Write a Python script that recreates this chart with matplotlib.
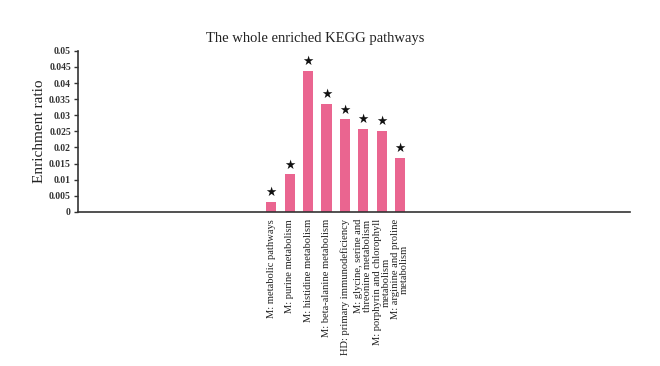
import matplotlib.pyplot as plt

pathways = [
    'M: metabolic pathways',
    'M: purine metabolism',
    'M: histidine metabolism',
    'M: beta-alanine metabolism',
    'HD: primary immunodeficiency',
    'M: glycine, serine and\nthreonine metabolism',
    'M: porphyrin and chlorophyll\nmetabolism',
    'M: arginine and proline\nmetabolism',
]
ratios = [0.0032, 0.0117, 0.0437, 0.0335, 0.0287, 0.0258, 0.0252, 0.0168]
yticks = [0, 0.005, 0.01, 0.015, 0.02, 0.025, 0.03, 0.035, 0.04, 0.045, 0.05]
ytick_labels = ['0', '0.005', '0.01', '0.015', '0.02', '0.025', '0.03',
                '0.035', '0.04', '0.045', '0.05']

plt.rcParams['font.family'] = ['Liberation Serif', 'DejaVu Serif']

fig = plt.figure(figsize=(6.6, 3.66), dpi=100)
ax = fig.add_axes([0.118, 0.421, 0.837, 0.44])

x = list(range(len(pathways)))
ax.bar(x, ratios, width=0.55, color='#EA6590')

for xi, v in zip(x, ratios):
    ax.annotate('★', (xi, v), xytext=(0, 2), textcoords='offset points',
                ha='center', va='bottom', fontsize=9, family='DejaVu Sans',
                color='#111111')

ax.set_xlim(-10.5, 19.5)
ax.set_ylim(0, 0.05)
ax.set_yticks(yticks)
ax.set_yticklabels(ytick_labels, fontsize=7, fontweight='bold', color='#333333')
ax.set_xticks(x)
ax.set_xticklabels(pathways, rotation=90, fontsize=7.6, ha='center', va='top',
                   multialignment='center', linespacing=0.95, color='#222222')
ax.tick_params(axis='x', length=0, pad=5)
ax.tick_params(axis='y', length=3, width=1, direction='out', pad=2, color='#333333')

for side in ['top', 'right']:
    ax.spines[side].set_visible(False)
for side in ['left', 'bottom']:
    ax.spines[side].set_linewidth(1.2)
    ax.spines[side].set_color('#333333')

ax.set_ylabel('Enrichment ratio', fontsize=11, color='#222222', labelpad=2)
fig.text(0.478, 0.895, 'The whole enriched KEGG pathways', fontsize=10.5,
         ha='center', va='center', color='#222222')

fig.savefig('out.png', dpi=100)
